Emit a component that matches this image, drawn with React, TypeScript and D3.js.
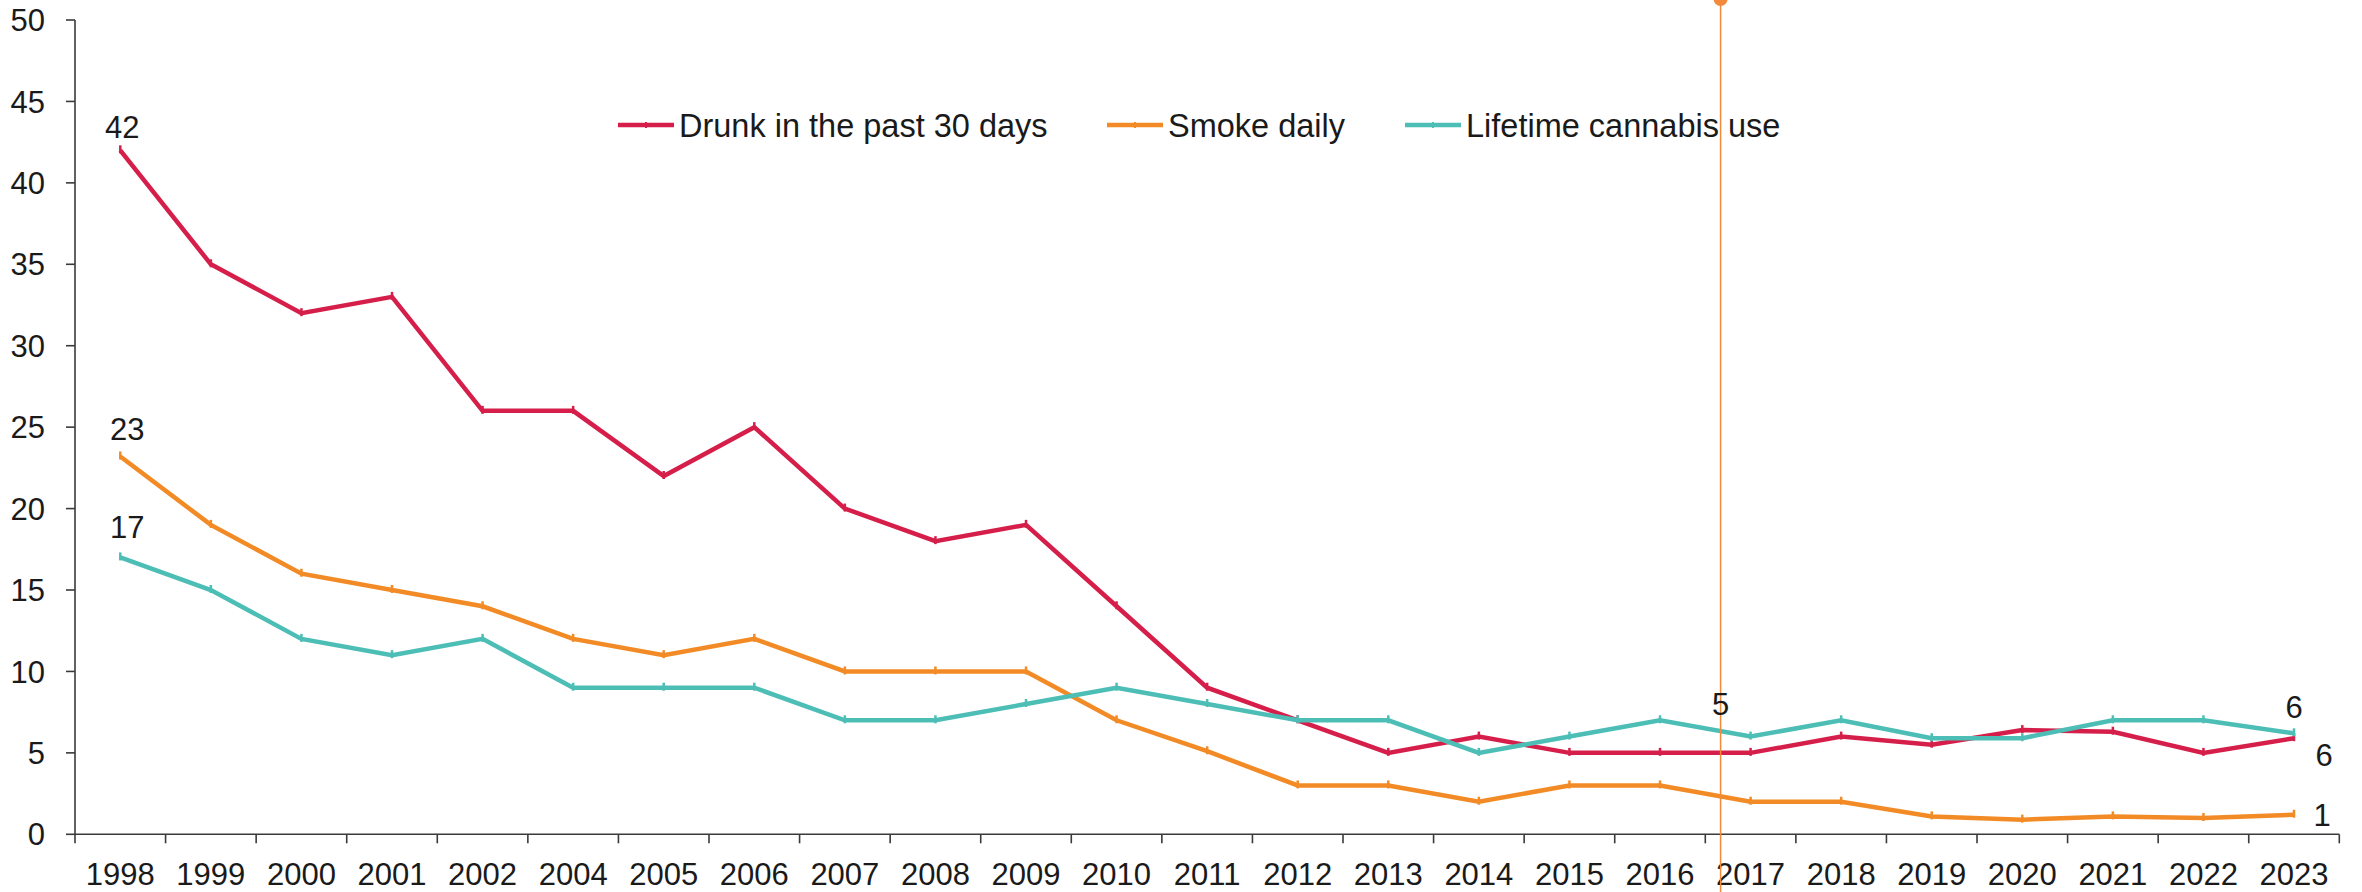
import React from "react";
import * as d3 from "d3";

const years = ["1998","1999","2000","2001","2002","2004","2005","2006","2007","2008","2009","2010","2011","2012","2013","2014","2015","2016","2017","2018","2019","2020","2021","2022","2023"];
const drunk = [42,35,32,33,26,26,22,25,20,18,19,14,9,7,5,6,5,5,5,6,5.5,6.4,6.3,5,5.9];
const smoke = [23.2,19,16,15,14,12,11,12,10,10,10,7,5.1,3,3,2,3,3,2,2,1.1,0.9,1.1,1.0,1.2];
const cannabis = [17,15,12,11,12,9,9,9,7,7,8,9,8,7,7,5,6,7,6,7,5.9,5.9,7,7,6.2];
const yTicks = [0,5,10,15,20,25,30,35,40,45,50];

const seriesNames = ["Drunk in the past 30 days","Smoke daily","Lifetime cannabis use"];
const seriesColors = ["#D51F4A","#F28B26","#4DBEB6"];
const seriesData = [drunk, smoke, cannabis];

const W = 2362, H = 892;
const FONT = "'Liberation Sans', Arial, sans-serif";
const FS = 31;

export default function App() {
  const x = d3.scaleBand<string>().domain(years).range([75, 2339.3]).padding(0);
  const y = d3.scaleLinear().domain([0, 50]).range([834.3, 20]);
  const cx = (i: number) => (x(years[i]) as number) + x.bandwidth() / 2;
  const line = d3.line<number>().x((_, i) => cx(i)).y((d) => y(d));
  const last = years.length - 1;
  const markerX = cx(years.indexOf("2017")) - 30;

  const legendX = [618, 1107, 1405];
  const legendY = 125;

  return (
    <svg width={W} height={H} style={{ position: "absolute", left: 0, top: 0, background: "#fff" }} fontFamily={FONT}>
      {/* axes */}
      <line x1={75} x2={75} y1={y(50)} y2={y(0)} stroke="#3a3a3a" strokeWidth={1.6} />
      <line x1={75} x2={2339.3} y1={y(0)} y2={y(0)} stroke="#3a3a3a" strokeWidth={1.6} />
      {yTicks.map((t) => (
        <g key={t}>
          <line x1={66} x2={75} y1={y(t)} y2={y(t)} stroke="#3a3a3a" strokeWidth={1.6} />
          <text x={45} y={y(t)} dy="0.36em" textAnchor="end" fontSize={FS} fill="#1a1a1a">{t}</text>
        </g>
      ))}
      {years.map((yr, i) => (
        <g key={yr}>
          <line x1={x(yr) as number} x2={x(yr) as number} y1={y(0)} y2={y(0) + 9} stroke="#3a3a3a" strokeWidth={1.6} />
          <text x={cx(i)} y={885} textAnchor="middle" fontSize={FS} fill="#1a1a1a">{yr}</text>
        </g>
      ))}
      <line x1={2339.3} x2={2339.3} y1={y(0)} y2={y(0) + 9} stroke="#3a3a3a" strokeWidth={1.6} />

      {/* series */}
      {seriesData.map((data, s) => (
        <g key={s}>
          <path d={line(data) as string} fill="none" stroke={seriesColors[s]} strokeWidth={4.5} strokeLinejoin="miter" />
          {data.map((v, i) => (
            <line key={i} x1={cx(i)} x2={cx(i)} y1={y(v) - 5} y2={y(v) + 3} stroke={seriesColors[s]} strokeWidth={2.5} />
          ))}
        </g>
      ))}

      {/* marker line */}
      <line x1={markerX} x2={markerX} y1={0} y2={H} stroke="#F2893B" strokeWidth={1.5} />
      <circle cx={markerX} cy={-1} r={7} fill="#F2893B" />

      {/* data labels */}
      <text x={cx(0) + 2} y={y(drunk[0]) - 12} textAnchor="middle" fontSize={FS} fill="#1a1a1a">{Math.round(drunk[0])}</text>
      <text x={cx(0) + 7} y={y(smoke[0]) - 16} textAnchor="middle" fontSize={FS} fill="#1a1a1a">{Math.round(smoke[0])}</text>
      <text x={cx(0) + 7} y={y(cannabis[0]) - 19} textAnchor="middle" fontSize={FS} fill="#1a1a1a">{Math.round(cannabis[0])}</text>
      <text x={markerX} y={y(drunk[18]) - 38} textAnchor="middle" fontSize={FS} fill="#1a1a1a">{Math.round(drunk[18])}</text>
      <text x={cx(last)} y={y(cannabis[last]) - 15} textAnchor="middle" fontSize={FS} fill="#1a1a1a">{Math.round(cannabis[last])}</text>
      <text x={cx(last) + 30} y={y(drunk[last]) + 28} textAnchor="middle" fontSize={FS} fill="#1a1a1a">{Math.round(drunk[last])}</text>
      <text x={cx(last) + 28} y={y(smoke[last]) + 11} textAnchor="middle" fontSize={FS} fill="#1a1a1a">{Math.round(smoke[last])}</text>

      {/* legend */}
      {seriesNames.map((n, s) => (
        <g key={n}>
          <line x1={legendX[s]} x2={legendX[s] + 56} y1={legendY} y2={legendY} stroke={seriesColors[s]} strokeWidth={4.5} />
          <line x1={legendX[s] + 28} x2={legendX[s] + 28} y1={legendY - 3} y2={legendY + 3} stroke={seriesColors[s]} strokeWidth={2} />
          <text x={legendX[s] + 61} y={legendY} dy="0.36em" fontSize={32.5} fill="#1a1a1a">{n}</text>
        </g>
      ))}
    </svg>
  );
}
